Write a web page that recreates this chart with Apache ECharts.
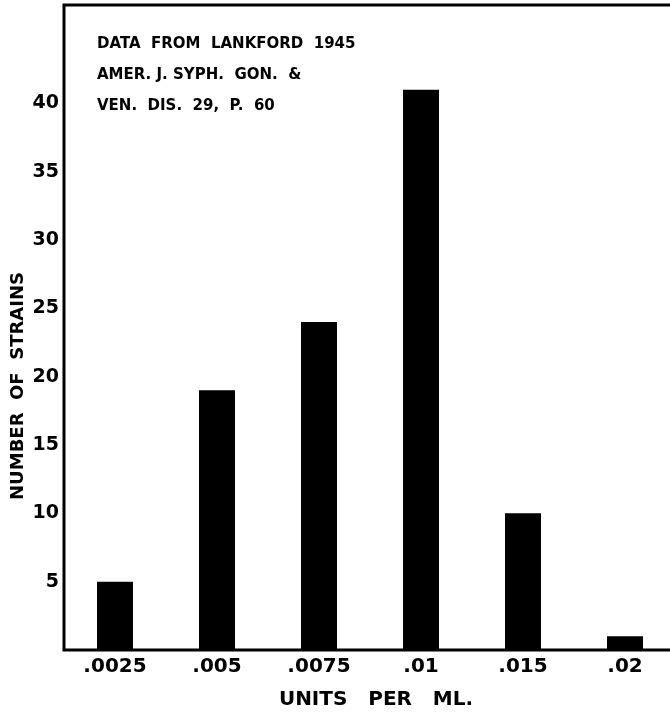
<!DOCTYPE html>
<html>
<head>
<meta charset="utf-8">
<script src="https://cdn.jsdelivr.net/npm/echarts@6/dist/echarts.min.js"></script>
<style>
  html, body { margin: 0; padding: 0; background: #fff; }
  #main { width: 670px; height: 713px; }
</style>
</head>
<body>
<div id="main"></div>
<script>
// values
var units = ['.0025', '.005', '.0075', '.01', '.015', '.02'];
var strains = [5, 19, 24, 41, 10, 1];
var yTicks = [5, 10, 15, 20, 25, 30, 35, 40];
var noteLines = ['DATA  FROM  LANKFORD  1945', 'AMER. J. SYPH.  GON.  &', 'VEN.  DIS.  29,  P.  60'];

var chartDom = document.getElementById('main');
var myChart = echarts.init(chartDom);
var option;

var font = 'DejaVu Sans';

option = {
  animation: false,
  grid: {
    left: 64, width: 612, top: 5, bottom: 63,
    outerBoundsMode: 'none',
    show: true,
    borderColor: '#000',
    borderWidth: 3
  },
  xAxis: {
    type: 'category',
    data: units,
    axisLine: { show: false },
    axisTick: { show: false },
    axisLabel: {
      color: '#000', fontFamily: font, fontWeight: 'bold', fontSize: 20, margin: 7
    },
    name: 'UNITS   PER   ML.',
    nameLocation: 'middle',
    nameGap: 40,
    nameTextStyle: {
      color: '#000', fontFamily: font, fontWeight: 'bold', fontSize: 20,
      padding: [0, 0, 0, 12]
    }
  },
  yAxis: {
    type: 'value',
    min: 0,
    max: 47.2,
    interval: 5,
    splitLine: { show: false },
    axisLine: { show: false },
    axisTick: { show: false },
    axisLabel: {
      color: '#000', fontFamily: font, fontWeight: 'bold', fontSize: 19, margin: 5,
      formatter: function (v) { return yTicks.indexOf(v) >= 0 ? String(v) : ''; }
    }
  },
  graphic: [
    {
      type: 'text',
      left: 97, top: 29,
      style: {
        text: noteLines.join('\n'),
        fill: '#000',
        font: 'bold 15px "DejaVu Sans"',
        lineHeight: 31
      }
    },
    {
      type: 'text',
      x: 18, y: 386,
      rotation: Math.PI / 2,
      style: {
        text: 'NUMBER  OF  STRAINS',
        fill: '#000',
        font: 'bold 18px "DejaVu Sans"',
        align: 'center',
        verticalAlign: 'middle'
      }
    }
  ],
  series: [
    {
      type: 'bar',
      data: strains,
      barWidth: 36,
      itemStyle: { color: '#000' }
    }
  ]
};

option && myChart.setOption(option);
</script>
</body>
</html>
